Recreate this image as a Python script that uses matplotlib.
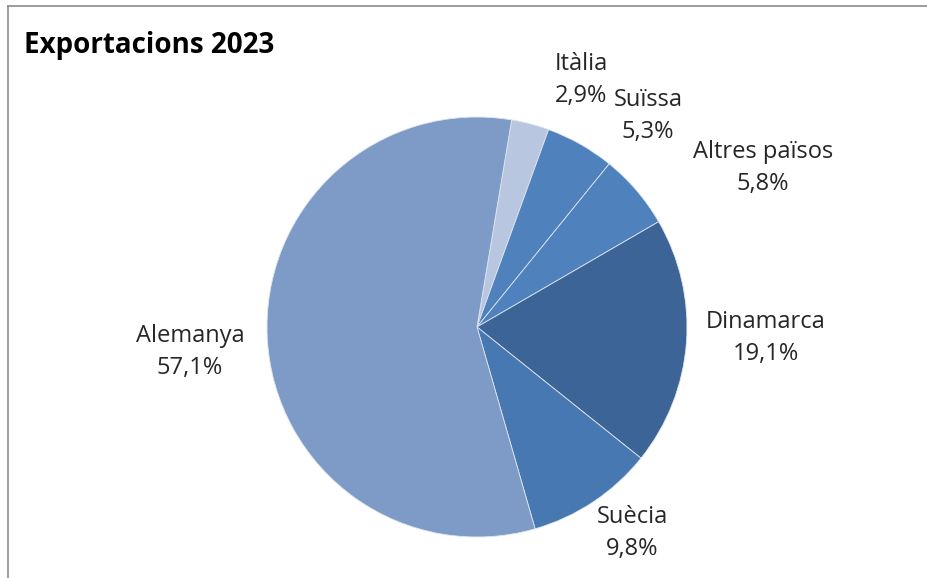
import matplotlib
matplotlib.use("Agg")
import matplotlib.pyplot as plt
from matplotlib.lines import Line2D

plt.rcParams['font.family'] = ['Open Sans', 'DejaVu Sans']

# data, clockwise from the top
countries = ['Itàlia', 'Suïssa', 'Altres països', 'Dinamarca', 'Suècia', 'Alemanya']
shares = [2.9, 5.3, 5.8, 19.1, 9.8, 57.1]
labels = ['2,9%', '5,3%', '5,8%', '19,1%', '9,8%', '57,1%']
colors = ['#b8c6e0', '#4f81bd', '#4f81bd', '#3d6496', '#4878b1', '#7e9bc8']

# label centres in pixels (name line)
label_px = [(581, 64), (648, 100), (763, 152), (766, 322), (632, 517), (190, 336)]

W, H = 928, 578
cx, cy, R = 477, 327, 210

fig = plt.figure(figsize=(W / 100, H / 100), dpi=100)
ax = fig.add_axes([0, 0, 1, 1])

ax.pie(shares, colors=colors, startangle=80.5, counterclock=False,
       wedgeprops=dict(edgecolor='#dde5f0', linewidth=0.6))
ax.set_xlim(-cx / R, (W - cx) / R)
ax.set_ylim(-(H - cy) / R, cy / R)
ax.set_aspect('equal')
ax.axis('off')

for name, pct, (px, py) in zip(countries, labels, label_px):
    x = (px - cx) / R
    y = (cy - py) / R
    ax.text(x, y, name, ha='center', va='center', fontsize=17, color='#262626')
    ax.text(x, y - 32 / R, pct, ha='center', va='center', fontsize=17, color='#262626')

fig.text(24 / W, 1 - 45 / H, 'Exportacions 2023', ha='left', va='center',
         fontsize=20, fontweight='bold', color='black')

# chart area border (left and top only visible)
fig.add_artist(Line2D([8.5 / W, 8.5 / W], [0, 1 - 5.5 / H], transform=fig.transFigure,
                      color='#8c8c8c', linewidth=1.2))
fig.add_artist(Line2D([8.5 / W, 1], [1 - 5.5 / H, 1 - 5.5 / H], transform=fig.transFigure,
                      color='#8c8c8c', linewidth=1.2))

fig.savefig('out.png', dpi=100)
